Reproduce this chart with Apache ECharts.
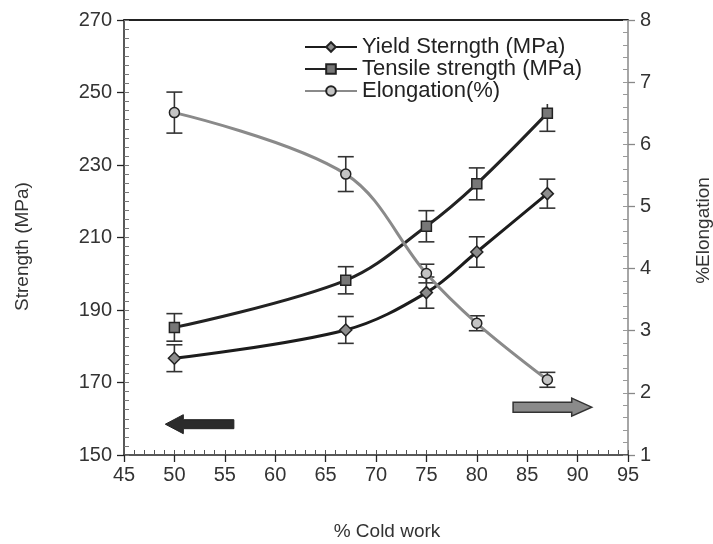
<!DOCTYPE html>
<html>
<head>
<meta charset="utf-8">
<script src="https://cdn.jsdelivr.net/npm/echarts@6/dist/echarts.min.js"></script>
<style>html,body{margin:0;padding:0;background:#fff;overflow:hidden}#c{width:713px;height:544px}</style>
</head>
<body>
<div id="c"></div>
<script>
var coldWork = [50, 67, 75, 80, 87];
var yieldStrength = [176.7, 184.5, 194.8, 206.0, 222.1];
var yieldErr = [3.7, 3.7, 4.3, 4.2, 4.0];
var tensileStrength = [185.2, 198.2, 213.1, 224.8, 244.3];
var tensileErr = [3.8, 3.75, 4.3, 4.4, 5.0];
var elongation = [6.51, 5.52, 3.92, 3.12, 2.21];
var elongErr = [0.33, 0.28, 0.15, 0.12, 0.12];
var seriesNames = ['Yield Sterngth (MPa)', 'Tensile strength (MPa)', 'Elongation(%)'];

var FONT = 'Liberation Sans, Arial, sans-serif';
var chart = echarts.init(document.getElementById('c'), null, {renderer: 'canvas'});

function pairs(ys) { return coldWork.map(function (x, i) { return [x, ys[i]]; }); }
function errData(ys, es) { return coldWork.map(function (x, i) { return [x, ys[i] - es[i], ys[i] + es[i]]; }); }
function errSeries(ys, es, yIdx) {
  return {
    type: 'custom', yAxisIndex: yIdx, z: 1, silent: true,
    data: errData(ys, es),
    encode: {x: 0, y: [1, 2]},
    renderItem: function (params, api) {
      var lo = api.coord([api.value(0), api.value(1)]);
      var hi = api.coord([api.value(0), api.value(2)]);
      var w = 8;
      var st = {stroke: '#333', lineWidth: 1.6};
      return {type: 'group', children: [
        {type: 'line', shape: {x1: lo[0], y1: lo[1], x2: hi[0], y2: hi[1]}, style: st},
        {type: 'line', shape: {x1: lo[0] - w, y1: lo[1], x2: lo[0] + w, y2: lo[1]}, style: st},
        {type: 'line', shape: {x1: hi[0] - w, y1: hi[1], x2: hi[0] + w, y2: hi[1]}, style: st}
      ]};
    }
  };
}

var labelStyle = {fontSize: 20, color: '#333', fontFamily: FONT};
function nameStyle(pad) { return {fontSize: 19, color: '#333', fontFamily: FONT, padding: pad}; }

var option = {
  animation: false,
  grid: {left: 124, right: 85, top: 20, bottom: 89, containLabel: false, outerBoundsMode: 'none'},
  legend: {
    orient: 'vertical', left: 298, top: 32,
    padding: [4, 6, 2, 6],
    backgroundColor: '#fff',
    itemWidth: 52, itemHeight: 12, itemGap: 0,
    data: seriesNames,
    textStyle: {fontSize: 22, color: '#222', fontFamily: FONT, lineHeight: 22}
  },
  xAxis: [
    {
      type: 'value', min: 45, max: 95, interval: 5, position: 'bottom',
      name: '% Cold work', nameLocation: 'middle', nameGap: 67, nameTextStyle: nameStyle([0, 0, 0, 22]),
      axisLine: {lineStyle: {color: '#222', width: 1.5}},
      axisTick: {show: true, inside: false, length: 7, lineStyle: {color: '#222', width: 1.3}},
      axisLabel: Object.assign({margin: 10}, labelStyle),
      splitLine: {show: false}
    },
    {
      type: 'value', min: 45, max: 95, interval: 1, position: 'bottom',
      axisLine: {show: false},
      axisTick: {show: true, inside: true, length: 5, lineStyle: {color: '#555', width: 1}},
      axisLabel: {show: false}, splitLine: {show: false}
    },
    {
      type: 'value', min: 45, max: 95, position: 'top',
      axisLine: {show: true, lineStyle: {color: '#222', width: 1.8}},
      axisTick: {show: false}, axisLabel: {show: false}, splitLine: {show: false}
    }
  ],
  yAxis: [
    {
      type: 'value', min: 150, max: 270, interval: 20, position: 'left',
      name: 'Strength (MPa)', nameLocation: 'middle', nameRotate: 90, nameGap: 92, nameTextStyle: nameStyle([0, 18, 0, 0]),
      axisLine: {show: true, lineStyle: {color: '#222', width: 1.5}},
      axisTick: {show: true, inside: false, length: 7, lineStyle: {color: '#222', width: 1.3}},
      axisLabel: Object.assign({margin: 12}, labelStyle),
      splitLine: {show: false}
    },
    {
      type: 'value', min: 1, max: 8, interval: 1, position: 'right',
      name: '%Elongation', nameLocation: 'middle', nameRotate: 90, nameGap: 66, nameTextStyle: nameStyle([0, 0, 0, 14]),
      axisLine: {show: true, lineStyle: {color: '#888', width: 1.5}},
      axisTick: {show: true, inside: false, length: 7, lineStyle: {color: '#888', width: 1.3}},
      axisLabel: Object.assign({margin: 12}, labelStyle),
      splitLine: {show: false}
    },
    {
      type: 'value', min: 150, max: 270, interval: 2.5, position: 'left',
      axisLine: {show: false},
      axisTick: {show: true, inside: true, length: 5, lineStyle: {color: '#777', width: 1}},
      axisLabel: {show: false}, splitLine: {show: false}
    },
    {
      type: 'value', min: 1, max: 8, interval: 0.2, position: 'right',
      axisLine: {show: false},
      axisTick: {show: true, inside: true, length: 5, lineStyle: {color: '#999', width: 1}},
      axisLabel: {show: false}, splitLine: {show: false}
    }
  ],
  series: [
    errSeries(yieldStrength, yieldErr, 0),
    errSeries(tensileStrength, tensileErr, 0),
    errSeries(elongation, elongErr, 1),
    {
      name: seriesNames[0], type: 'line', yAxisIndex: 0, z: 3, smooth: 0.35,
      data: pairs(yieldStrength),
      symbol: 'diamond', symbolSize: 12,
      lineStyle: {color: '#1c1c1c', width: 3},
      itemStyle: {color: '#8c8c8c', borderColor: '#222', borderWidth: 1.5}
    },
    {
      name: seriesNames[1], type: 'line', yAxisIndex: 0, z: 3, smooth: 0.35,
      data: pairs(tensileStrength),
      symbol: 'rect', symbolSize: 10,
      lineStyle: {color: '#222', width: 3},
      itemStyle: {color: '#777', borderColor: '#222', borderWidth: 1.5}
    },
    {
      name: seriesNames[2], type: 'line', yAxisIndex: 1, z: 3, smooth: 0.35,
      data: pairs(elongation),
      symbol: 'circle', symbolSize: 10,
      lineStyle: {color: '#8a8a8a', width: 3},
      itemStyle: {color: '#c4c4c4', borderColor: '#222', borderWidth: 1.5}
    }
  ]
};
chart.setOption(option);

// Direction arrows (annotations), anchored in data space
var leftTip = chart.convertToPixel({xAxisIndex: 0, yAxisIndex: 0}, [49.1, 158.5]);
var leftTail = chart.convertToPixel({xAxisIndex: 0, yAxisIndex: 0}, [55.9, 158.5]);
var rightTail = chart.convertToPixel({xAxisIndex: 0, yAxisIndex: 1}, [83.6, 1.77]);
var rightTip = chart.convertToPixel({xAxisIndex: 0, yAxisIndex: 1}, [91.4, 1.77]);
function arrowPts(tail, tip, headLen, shaftH, headH) {
  var dir = tip[0] > tail[0] ? 1 : -1;
  var y = tip[1];
  var bx = tip[0] - dir * headLen;
  return [[tail[0], y - shaftH], [bx, y - shaftH], [bx, y - headH], [tip[0], y],
          [bx, y + headH], [bx, y + shaftH], [tail[0], y + shaftH]];
}
chart.setOption({
  graphic: [
    {type: 'polygon', z: 10, shape: {points: arrowPts(leftTail, leftTip, 18, 4.5, 9.5)},
     style: {fill: '#2b2b2b', stroke: '#222', lineWidth: 1}},
    {type: 'polygon', z: 10, shape: {points: arrowPts(rightTail, rightTip, 20, 5, 9)},
     style: {fill: '#8a8a8a', stroke: '#333', lineWidth: 1.5}}
  ]
});
</script>
</body>
</html>
